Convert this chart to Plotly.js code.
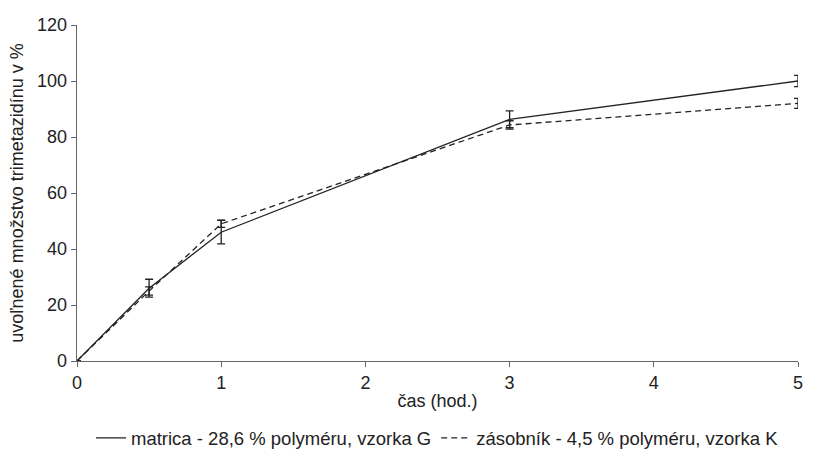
<!DOCTYPE html>
<html><head><meta charset="utf-8">
<script src="https://cdn.plot.ly/plotly-3.0.1.min.js"></script>
<style>body{margin:0;background:#fff}#c{width:818px;height:449px}</style>
</head><body><div id="c"></div>
<script>
const time = [0, 0.5, 1, 3, 5];
const matrica = [0, 26, 46, 86.3, 100];
const matricaErr = [0, 3.2, 4.2, 3, 2];
const zasobnik = [0, 25, 49, 84.3, 92];
const zasobnikErr = [0, 1.5, 1.3, 1.5, 1.8];
const nameA = 'matrica - 28,6 % polyméru, vzorka G';
const nameB = 'zásobník - 4,5 % polyméru, vzorka K';
const font = {family: 'Liberation Sans, Arial, sans-serif', size: 18, color: '#222'};
const traces = [
  {x: time, y: matrica, name: nameA, mode: 'lines', type: 'scatter',
   line: {color: '#222', width: 1.3},
   error_y: {type: 'data', array: matricaErr, visible: true, color: '#222', thickness: 1.3, width: 4}},
  {x: time, y: zasobnik, name: nameB, mode: 'lines', type: 'scatter',
   line: {color: '#222', width: 1.3, dash: '6px,4px'},
   error_y: {type: 'data', array: zasobnikErr, visible: true, color: '#222', thickness: 1.3, width: 4}}
];
const layout = {
  width: 818, height: 449,
  margin: {l: 77, r: 20, t: 25, b: 88, autoexpand: false},
  paper_bgcolor: '#fff', plot_bgcolor: '#fff',
  font: font,
  showlegend: true,
  legend: {orientation: 'h', x: 0.5, xanchor: 'center', y: -0.23, yanchor: 'middle',
           font: {family: font.family, size: 18.5, color: '#222'}, tracegroupgap: 0},
  xaxis: {range: [0, 5], tickvals: [0,1,2,3,4,5], showgrid: false, zeroline: false,
          showline: true, linecolor: '#666', linewidth: 1.3, ticks: 'outside', ticklen: 5, tickcolor: '#666',
          tickfont: {size: 18}, title: {text: 'čas (hod.)', font: {size: 18}, standoff: 2}},
  yaxis: {range: [0, 120], dtick: 20, showgrid: false, zeroline: false,
          showline: true, linecolor: '#666', linewidth: 1.3, ticks: 'outside', ticklen: 5, tickcolor: '#666',
          tickfont: {size: 18}, title: {text: 'uvoľnené množstvo trimetazidínu v %', font: {size: 18}, standoff: 8}}
};
Plotly.newPlot('c', traces, layout, {displayModeBar: false, staticPlot: true});
</script></body></html>
